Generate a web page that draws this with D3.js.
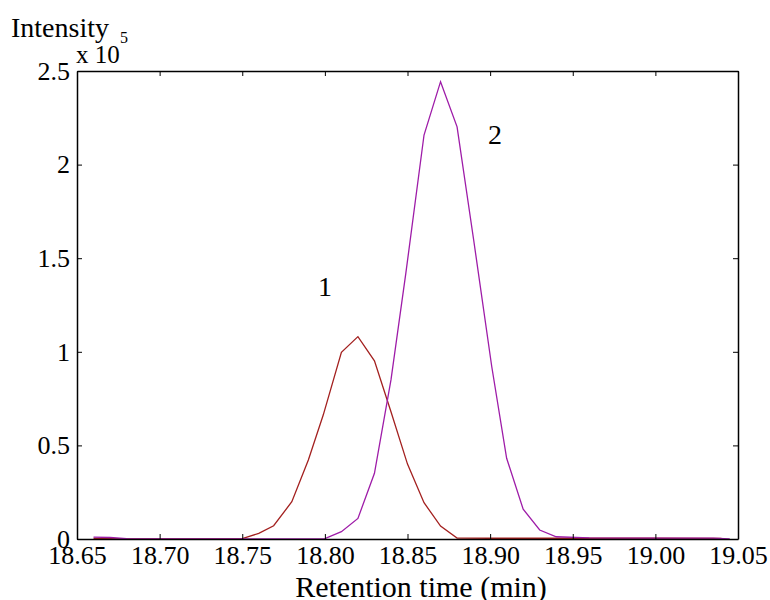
<!DOCTYPE html>
<html>
<head>
<meta charset="utf-8">
<script src="https://cdn.jsdelivr.net/npm/d3@7"></script>
<style>
  body { margin: 0; background: #fff; }
  #chart { width: 770px; height: 600px; }
  text { font-family: "Liberation Serif", "Times New Roman", serif; fill: #000; }
  .domain, .tick line { stroke: #000; }
</style>
</head>
<body>
<div id="chart"></div>
<script>
// peak 1 (dark red) - retention time (min) and intensity (x 10^5)
var redTime = [18.660, 18.670, 18.680, 18.700, 18.720, 18.740, 18.750, 18.760, 18.769, 18.780, 18.790, 18.799,
               18.810, 18.820, 18.830, 18.840, 18.850, 18.860, 18.870, 18.880, 18.900, 18.950, 19.000, 19.040];
var redVal  = [0.003, 0.002, 0.000, 0.000, 0.000, 0.000, 0.002, 0.030, 0.071, 0.199, 0.422, 0.662,
               0.997, 1.081, 0.952, 0.680, 0.400, 0.194, 0.069, 0.005, 0.004, 0.004, 0.004, 0.003];

// peak 2 (purple)
var purpleTime = [18.660, 18.670, 18.680, 18.700, 18.750, 18.800, 18.810, 18.820, 18.830, 18.840, 18.849, 18.860,
                  18.870, 18.880, 18.890, 18.901, 18.910, 18.920, 18.930, 18.940, 18.960, 19.000, 19.035, 19.045];
var purpleVal  = [0.010, 0.008, 0.002, 0.000, 0.000, 0.002, 0.039, 0.110, 0.351, 0.850, 1.420, 2.158,
                  2.443, 2.202, 1.600, 0.920, 0.431, 0.159, 0.048, 0.012, 0.006, 0.005, 0.005, 0.001];

var xTicks = [18.65, 18.70, 18.75, 18.80, 18.85, 18.90, 18.95, 19.00, 19.05];
var yTicks = [0, 0.5, 1, 1.5, 2, 2.5];

var canvasWidth = 770;
var canvasHeight = 600;

var svg = d3.select("#chart").append("svg")
    .attr("width", canvasWidth)
    .attr("height", canvasHeight)

var plotLeft = 77, plotRight = 738, plotTop = 71, plotBottom = 539;

var xScale = d3.scaleLinear().domain([18.65, 19.05]).range([plotLeft, plotRight]);
var yScale = d3.scaleLinear().domain([0, 2.5]).range([plotBottom, plotTop]);

var redData = redTime.map(function(t, i) { return {t: t, v: redVal[i]}; });
var purpleData = purpleTime.map(function(t, i) { return {t: t, v: purpleVal[i]}; });

var line = d3.line()
    .x(function(d) { return xScale(d.t) })
    .y(function(d) { return yScale(d.v) })

svg.append("path")
    .datum(redData)
    .attr("fill", "none")
    .attr("stroke", "#a3201f")
    .attr("stroke-width", 1.3)
    .attr("d", line)

svg.append("path")
    .datum(purpleData)
    .attr("fill", "none")
    .attr("stroke", "#9e1ca8")
    .attr("stroke-width", 1.3)
    .attr("d", line)

// box axes, ticks inward like matlab
var xAxis = svg.append("g")
    .attr("transform", "translate(0," + plotBottom + ")")
    .call(d3.axisBottom(xScale).tickValues(xTicks).tickFormat(d3.format(".2f"))
        .tickSizeInner(-5).tickSizeOuter(0).tickPadding(7))
xAxis.selectAll("text").attr("font-size", "26px")

var yAxis = svg.append("g")
    .attr("transform", "translate(" + plotLeft + ",0)")
    .call(d3.axisLeft(yScale).tickValues(yTicks).tickFormat(function(d) { return d; })
        .tickSizeInner(-5).tickSizeOuter(0).tickPadding(7))
yAxis.selectAll("text").attr("font-size", "26px")

svg.append("g")
    .attr("transform", "translate(0," + plotTop + ")")
    .call(d3.axisTop(xScale).tickValues(xTicks).tickFormat("")
        .tickSizeInner(-5).tickSizeOuter(0))

svg.append("g")
    .attr("transform", "translate(" + plotRight + ",0)")
    .call(d3.axisRight(yScale).tickValues(yTicks).tickFormat("")
        .tickSizeInner(-5).tickSizeOuter(0))

svg.selectAll(".domain").attr("stroke-width", 1.5)
svg.selectAll(".tick line").attr("stroke-width", 1)

// labels
svg.append("text")
    .attr("x", 421)
    .attr("y", 597)
    .attr("text-anchor", "middle")
    .attr("font-size", "30px")
    .text("Retention time (min)")

svg.append("text")
    .attr("x", 11)
    .attr("y", 37)
    .attr("font-size", "28px")
    .text("Intensity")

svg.append("text")
    .attr("x", 76)
    .attr("y", 63)
    .attr("font-size", "25px")
    .text("x 10")

svg.append("text")
    .attr("x", 120)
    .attr("y", 43)
    .attr("font-size", "16px")
    .text("5")

svg.append("text")
    .attr("x", xScale(18.8))
    .attr("y", 296)
    .attr("text-anchor", "middle")
    .attr("font-size", "28px")
    .text("1")

svg.append("text")
    .attr("x", xScale(18.903))
    .attr("y", 144)
    .attr("text-anchor", "middle")
    .attr("font-size", "28px")
    .text("2")
</script>
</body>
</html>
